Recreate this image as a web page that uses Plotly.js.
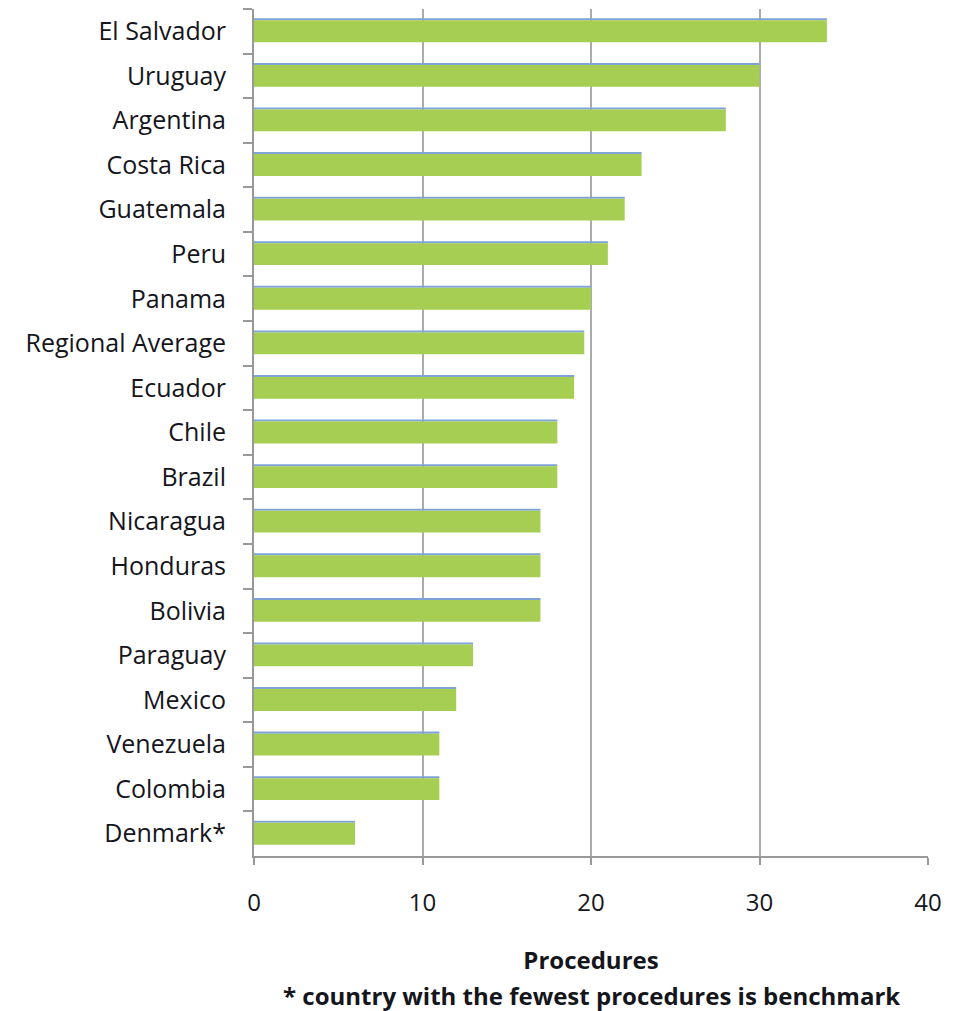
<!DOCTYPE html>
<html>
<head>
<meta charset="utf-8">
<script src="https://cdn.plot.ly/plotly-3.0.1.min.js"></script>
<style>html,body{margin:0;padding:0;background:#fff;}#chart{width:960px;height:1011px;}</style>
</head>
<body>
<div id="chart"></div>
<script>
const countries = ["El Salvador","Uruguay","Argentina","Costa Rica","Guatemala","Peru","Panama","Regional Average","Ecuador","Chile","Brazil","Nicaragua","Honduras","Bolivia","Paraguay","Mexico","Venezuela","Colombia","Denmark*"];
const procedures = [34,30,28,23,22,21,20,19.6,19,18,18,17,17,17,13,12,11,11,6];
const xTicks = [0,10,20,30,40];
const xTitle = "Procedures";
const footnote = "* country with the fewest procedures is benchmark";

const font = "'Open Sans', Lato, sans-serif";
const txt = "#15151c";

const traces = [
  {
    type: "bar", orientation: "h",
    x: procedures, y: countries,
    width: 0.045, offset: -0.29,
    marker: {color: "#7fa3d6"},
    hoverinfo: "skip", showlegend: false
  },
  {
    type: "bar", orientation: "h",
    x: procedures, y: countries,
    width: 0.49, offset: -0.245,
    marker: {color: "#a6ce52"},
    showlegend: false
  }
];

const layout = {
  width: 960, height: 1011,
  margin: {l: 254, r: 32, t: 9, b: 155},
  paper_bgcolor: "#fff", plot_bgcolor: "#fff",
  barmode: "overlay",
  font: {family: font, size: 24, color: txt},
  xaxis: {
    range: [0, 40], tickvals: xTicks, ticktext: xTicks.map(String),
    showgrid: true, gridcolor: "#ababab", gridwidth: 2,
    zeroline: false,
    showline: true, linecolor: "#999", linewidth: 2,
    ticks: "outside", ticklen: 7, tickcolor: "#999", tickwidth: 2,
    ticklabelstandoff: 17,
    tickfont: {family: font, size: 24, color: txt, weight: 500},
    title: {text: "<b>" + xTitle + "</b>", font: {family: font, size: 24, color: txt}, standoff: 35}
  },
  yaxis: {
    type: "category", autorange: "reversed",
    categoryorder: "array", categoryarray: countries,
    showline: true, linecolor: "#999", linewidth: 2,
    ticks: "outside", ticklen: 9, tickcolor: "#999", tickwidth: 2,
    tickson: "boundaries",
    showgrid: false,
    ticklabelstandoff: 21,
    tickfont: {family: font, size: 25, color: txt, weight: 500}
  },
  annotations: [{
    text: "<b>" + footnote + "</b>",
    xref: "paper", yref: "paper", x: 0.5, y: 0, yshift: -139,
    xanchor: "center", yanchor: "middle", showarrow: false,
    font: {family: font, size: 24, color: txt}
  }]
};

Plotly.newPlot("chart", traces, layout, {displayModeBar: false});
</script>
</body>
</html>
